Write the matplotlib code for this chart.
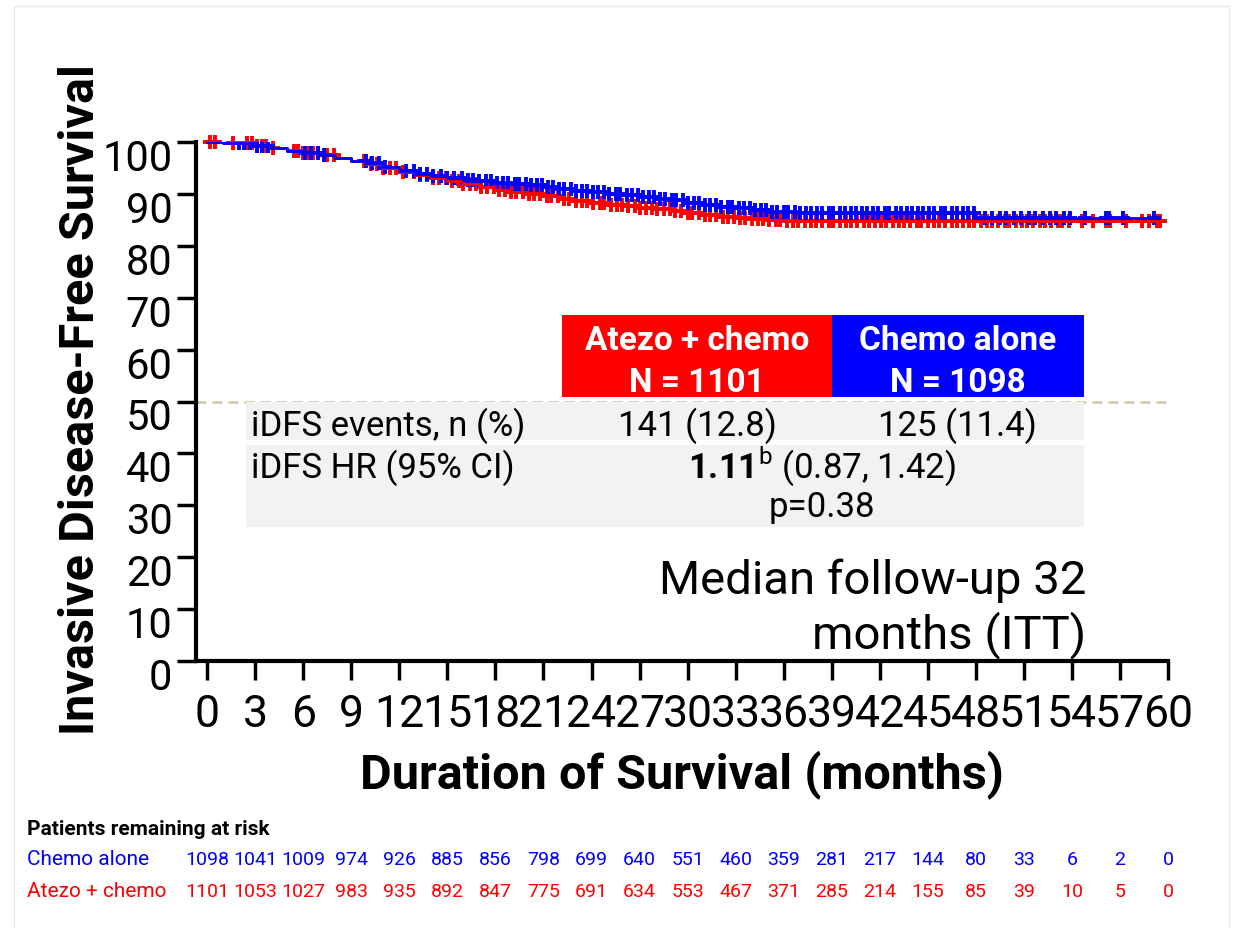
import numpy as np
import matplotlib
matplotlib.use('Agg')
from matplotlib import pyplot as plt
from matplotlib.patches import Rectangle
from matplotlib.transforms import blended_transform_factory, ScaledTranslation

plt.rcParams['font.family'] = ['Roboto', 'DejaVu Sans']
plt.rcParams['mathtext.fontset'] = 'custom'
plt.rcParams['mathtext.rm'] = 'Roboto'
plt.rcParams['mathtext.bf'] = 'Roboto:bold'

# KM curves (month, % free of iDFS); last entry = end of follow-up
chemo_t = [0, 1, 2, 3, 4, 5, 6, 7, 8, 9, 10, 11, 12, 13, 14, 15, 16, 17, 18, 19, 20,
           21, 22, 23, 24, 25, 26, 27, 28, 29, 30, 31, 32, 33, 34, 35, 36, 37, 48, 59.2]
chemo_s = [100, 99.9, 99.8, 99.3, 98.8, 98.3, 97.9, 97.4, 96.9, 96.4, 95.9, 95.2, 94.4,
           93.9, 93.5, 93.1, 92.7, 92.4, 92.1, 91.9, 91.7, 91.4, 91.0, 90.6, 90.3, 90.0,
           89.7, 89.4, 89.1, 88.9, 88.3, 87.9, 87.5, 87.2, 86.9, 86.6, 86.5, 86.4, 85.4, 85.4]

atezo_t = [0, 1, 2, 3, 4, 5, 6, 7, 8, 9, 10, 11, 12, 13, 14, 15, 16, 17, 18, 19, 20,
           21, 22, 23, 24, 25, 26, 27, 28, 29, 30, 31, 32, 33, 34, 35, 36, 37, 59.7]
atezo_s = [100, 99.9, 99.8, 99.3, 98.8, 98.3, 97.9, 97.4, 96.9, 96.3, 95.8, 95.0, 94.3,
           93.7, 93.1, 92.5, 91.9, 91.3, 90.8, 90.4, 89.9, 89.5, 89.1, 88.7, 88.3, 87.9,
           87.6, 87.3, 87.0, 86.8, 86.4, 86.0, 85.6, 85.3, 85.1, 84.9, 84.8, 84.7, 84.7]

# censoring times (months)
chemo_cens = [2.0, 2.3, 2.7, 3.1, 3.4, 3.8, 6.1, 6.5, 6.9, 7.3, 9.9, 10.3, 10.7, 11.1,
              12.4, 12.9, 13.3, 13.7, 14.1, 14.6, 15.0, 15.4, 15.9, 16.3, 16.6, 17.0,
              17.4, 17.7, 18.1, 18.5, 18.8, 19.2, 19.5, 19.9, 20.2, 20.6, 20.9, 21.3,
              21.6, 22.0, 22.3, 22.7, 23.0, 23.4, 23.7, 24.1, 24.4, 24.8, 25.1, 25.5,
              25.8, 26.2, 26.5, 26.9, 27.2, 27.6, 27.9, 28.3, 28.6, 29.0, 29.3, 29.7,
              30.0, 30.4, 30.7, 31.1, 31.4, 31.8, 32.1, 32.5, 32.8, 33.2, 33.5, 33.9,
              34.2, 34.6, 34.9, 35.3, 35.6, 36.0, 36.3, 36.7, 37.0, 37.4, 37.7, 38.1,
              38.4, 38.8, 39.1, 39.5, 39.8, 40.2, 40.5, 40.9, 41.2, 41.6, 41.9, 42.3,
              42.6, 43.0, 43.3, 43.7, 44.0, 44.4, 44.7, 45.1, 45.4, 45.8, 46.1, 46.5,
              46.8, 47.2, 47.5, 47.9, 48.6, 49.0, 49.5, 49.9, 50.4, 50.8, 51.3, 51.7,
              52.2, 52.6, 53.0, 53.5, 53.9, 54.8, 56.1, 56.3, 57.2, 59.1]
atezo_cens = [0.2, 0.5, 1.6, 2.5, 2.8, 3.1, 3.4, 3.7, 4.1, 5.4, 5.7, 6.0, 6.3, 6.6, 7.5,
              7.9, 9.8, 10.2, 10.6, 11.0, 11.4, 11.8, 12.2, 12.9, 13.3, 13.7, 14.1, 14.5,
              14.9, 15.3, 15.7, 16.0, 16.4, 16.8, 17.1, 17.5, 17.9, 18.2, 18.6, 19.0,
              19.3, 19.7, 20.1, 20.4, 20.8, 21.2, 21.5, 21.9, 22.3, 22.6, 23.0, 23.4,
              23.7, 24.1, 24.5, 24.8, 25.2, 25.6, 25.9, 26.3, 26.7, 27.0, 27.4, 27.8,
              28.1, 28.5, 28.9, 29.2, 29.6, 30.0, 30.3, 30.7, 31.1, 31.4, 31.8, 32.2,
              32.5, 32.9, 33.3, 33.6, 34.0, 34.4, 34.7, 35.1, 35.5, 35.8, 36.2, 36.6,
              36.9, 37.3, 37.7, 38.0, 38.4, 38.8, 39.1, 39.5, 39.9, 40.2, 40.6, 41.0,
              41.3, 41.7, 42.1, 42.4, 42.8, 43.2, 43.5, 43.9, 44.3, 44.6, 45.0, 45.4,
              45.7, 46.1, 46.5, 46.8, 47.2, 47.6, 47.9, 48.3, 48.7, 49.0, 49.4, 49.8,
              50.1, 50.5, 50.9, 51.2, 51.6, 52.0, 52.3, 52.7, 53.1, 53.4, 53.8, 54.6,
              55.3, 56.1, 56.4, 57.4, 58.4, 58.8, 59.3, 59.5]

risk_months = list(range(0, 61, 3))
chemo_risk = [1098, 1041, 1009, 974, 926, 885, 856, 798, 699, 640, 551, 460, 359, 281,
              217, 144, 80, 33, 6, 2, 0]
atezo_risk = [1101, 1053, 1027, 983, 935, 892, 847, 775, 691, 634, 553, 467, 371, 285,
              214, 155, 85, 39, 10, 5, 0]

RED = '#ff0000'
BLUE = '#0000ff'

fig = plt.figure(figsize=(12.38, 9.29), dpi=100)
ax = fig.add_axes([196 / 1238, 1 - 662 / 929, 972 / 1238, 519 / 929])


def surv_at(times, surv, t):
    idx = np.searchsorted(times, t, side='right') - 1
    return np.asarray(surv)[idx]


ax.plot(atezo_cens, surv_at(atezo_t, atezo_s, atezo_cens), ls='none', marker='+',
        ms=10, mew=2.8, color=RED, zorder=3, clip_on=False)
ax.plot(chemo_cens, surv_at(chemo_t, chemo_s, chemo_cens), ls='none', marker='+',
        ms=10, mew=2.8, color=BLUE, zorder=3)
ax.step(atezo_t, atezo_s, where='post', color=RED, lw=2, zorder=4)
ax.step(chemo_t, chemo_s, where='post', color=BLUE, lw=2, zorder=5)

ax.axhline(50, color='#cdc5a5', lw=1.8, ls=(0, (4, 2.4)), zorder=1)

ax.set_xlim(-0.7, 60)
ax.set_ylim(0, 100)
ax.set_xticks(risk_months)
ax.set_yticks(range(0, 101, 10))
ax.spines['top'].set_visible(False)
ax.spines['right'].set_visible(False)
ax.spines['left'].set_linewidth(3)
ax.spines['bottom'].set_linewidth(3)
ax.tick_params(width=2.5, length=14)
ax.tick_params(axis='x', pad=9, labelsize=32)
ax.tick_params(axis='y', pad=3, labelsize=30)
for tk in ax.yaxis.get_major_ticks():
    tk.label1.set_transform(tk.label1.get_transform() +
                            ScaledTranslation(0, -0.12, fig.dpi_scale_trans))

ax.set_xlabel('Duration of Survival (months)', fontsize=35, fontweight='bold')
ax.set_ylabel('Invasive Disease-Free Survival', fontsize=35, fontweight='bold')
ax.xaxis.set_label_coords(0.5, -0.17)
ax.yaxis.set_label_coords(-0.095, 0.505)

# summary table
ax.add_patch(Rectangle((22.18, 50.9), 16.82, 15.8, color=RED, lw=0, zorder=6))
ax.add_patch(Rectangle((39.0, 50.9), 15.77, 15.8, color=BLUE, lw=0, zorder=6))
ax.add_patch(Rectangle((2.43, 42.6), 52.34, 7.3, color='#f2f2f2', lw=0, zorder=6))
ax.add_patch(Rectangle((2.43, 25.8), 52.34, 15.8, color='#f2f2f2', lw=0, zorder=6))

hdr = dict(color='white', fontsize=24, fontweight='bold', ha='center', va='baseline', zorder=7)
ax.text(30.6, 60.1, 'Atezo + chemo', **hdr)
ax.text(30.6, 52.0, 'N = 1101', **hdr)
ax.text(46.85, 60.1, 'Chemo alone', **hdr)
ax.text(46.85, 52.0, 'N = 1098', **hdr)

cell = dict(fontsize=25, va='baseline', zorder=7)
ax.text(2.74, 43.5, 'iDFS events, n (%)', ha='left', **cell)
ax.text(30.6, 43.5, '141 (12.8)', ha='center', **cell)
ax.text(46.85, 43.5, '125 (11.4)', ha='center', **cell)
ax.text(2.74, 35.5, 'iDFS HR (95% CI)', ha='left', **cell)
ax.text(38.4, 35.5, r'$\mathbf{1.11}^{\mathrm{b}}$ (0.87, 1.42)', ha='center', **cell)
ax.text(38.4, 27.9, 'p=0.38', ha='center', **cell)

ax.text(54.9, 13.1, 'Median follow-up 32', fontsize=34, ha='right', va='baseline')
ax.text(54.9, 2.7, 'months (ITT)', fontsize=34, ha='right', va='baseline')

# patients at risk
fig.text(27 / 1238, 1 - 835 / 929, 'Patients remaining at risk', fontsize=15,
         fontweight='bold', va='baseline')
fig.text(27 / 1238, 1 - 865 / 929, 'Chemo alone', fontsize=15, color=BLUE, va='baseline')
fig.text(27 / 1238, 1 - 897 / 929, 'Atezo + chemo', fontsize=15, color=RED, va='baseline')
trans = blended_transform_factory(ax.transData, fig.transFigure)
for m, nb, nr in zip(risk_months, chemo_risk, atezo_risk):
    fig.text(m, 1 - 865 / 929, str(nb), fontsize=14, color=BLUE, ha='center',
             va='baseline', transform=trans)
    fig.text(m, 1 - 897 / 929, str(nr), fontsize=14, color=RED, ha='center',
             va='baseline', transform=trans)

fig.patches.append(Rectangle((14 / 1238, -0.01), 1215 / 1238, 1.004 - 6 / 929 + 0.005,
                             transform=fig.transFigure, fill=False, ec='#e8e8e8', lw=1))

fig.savefig('out.png', dpi=100)
